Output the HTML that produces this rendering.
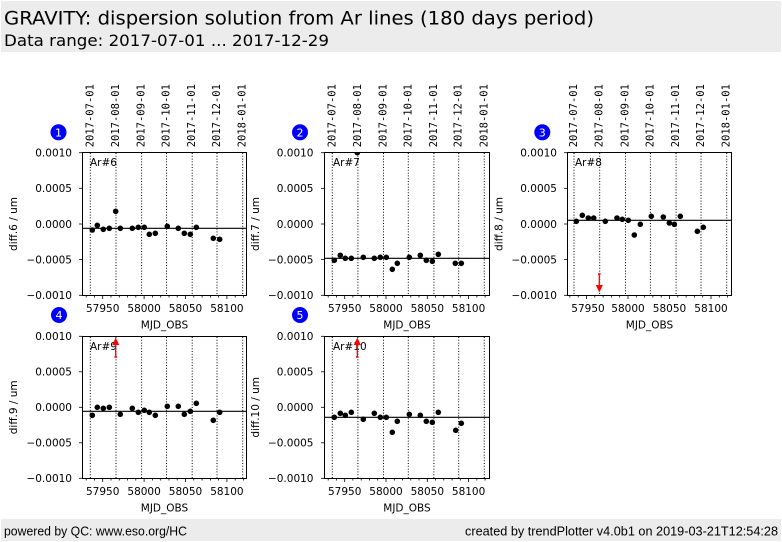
<!DOCTYPE html>
<html><head><meta charset="utf-8"><style>
html,body{margin:0;padding:0;background:#fff;}
svg{display:block;}
.t{font-family:"DejaVu Sans","Liberation Sans",sans-serif;font-size:10.5px;fill:#000;}
.d{font-family:"DejaVu Sans Mono","Liberation Mono",monospace;font-size:10.5px;fill:#000;}
.n{font-family:"DejaVu Sans","Liberation Sans",sans-serif;font-size:11px;text-anchor:middle;}
.dl{stroke:#000;stroke-width:1;stroke-dasharray:1,1.8;fill:none;}
</style></head><body>
<svg width="782" height="542" viewBox="0 0 782 542" xmlns="http://www.w3.org/2000/svg">
<rect x="0" y="0" width="782" height="542" fill="#fff"/>
<!-- header -->
<rect x="1" y="1" width="780" height="51" fill="#ececec"/>
<text x="4" y="24.5" font-family="DejaVu Sans, Liberation Sans, sans-serif" font-size="19px" fill="#000" textLength="590" lengthAdjust="spacingAndGlyphs">GRAVITY: dispersion solution from Ar lines (180 days period)</text>
<text x="4" y="46" font-family="DejaVu Sans, Liberation Sans, sans-serif" font-size="16px" fill="#000" textLength="325" lengthAdjust="spacingAndGlyphs">Data range: 2017-07-01 ... 2017-12-29</text>
<!-- footer -->
<rect x="1" y="519" width="780" height="22" fill="#ececec"/>
<text x="4" y="535.5" font-family="Liberation Sans, DejaVu Sans, sans-serif" font-size="12.5px" fill="#000" textLength="183" lengthAdjust="spacingAndGlyphs">powered by QC: www.eso.org/HC</text>
<text x="778" y="535.5" text-anchor="end" font-family="Liberation Sans, DejaVu Sans, sans-serif" font-size="12.5px" fill="#000" textLength="313" lengthAdjust="spacingAndGlyphs">created by trendPlotter v4.0b1 on 2019-03-21T12:54:28</text>

<defs>
<clipPath id="c1"><rect x="82.5" y="152.5" width="164" height="143"/></clipPath>
<clipPath id="c2"><rect x="324.5" y="152.5" width="165" height="143"/></clipPath>
<clipPath id="c3"><rect x="567.5" y="152.5" width="164" height="143"/></clipPath>
<clipPath id="c4"><rect x="82.5" y="336.5" width="164" height="142"/></clipPath>
<clipPath id="c5"><rect x="324.5" y="336.5" width="165" height="142"/></clipPath>
</defs>

<!-- ================= PANEL 1 ================= -->
<g class="dl">
<line x1="90.3" y1="153" x2="90.3" y2="295"/><line x1="116" y1="153" x2="116" y2="295"/><line x1="141.6" y1="153" x2="141.6" y2="295"/><line x1="166.5" y1="153" x2="166.5" y2="295"/><line x1="192.2" y1="153" x2="192.2" y2="295"/><line x1="217" y1="153" x2="217" y2="295"/><line x1="242.7" y1="153" x2="242.7" y2="295"/>
</g>
<line x1="82.5" y1="228.3" x2="246.5" y2="228.3" stroke="#000" stroke-width="1.2"/>
<g fill="#000" clip-path="url(#c1)">
<circle cx="92.3" cy="230" r="2.8"/><circle cx="97.3" cy="225.3" r="2.8"/><circle cx="103.3" cy="229.3" r="2.8"/><circle cx="109.3" cy="228.3" r="2.8"/><circle cx="115.7" cy="211.3" r="2.8"/><circle cx="120.3" cy="228.3" r="2.8"/><circle cx="132.3" cy="228.3" r="2.8"/><circle cx="138.3" cy="227.3" r="2.8"/><circle cx="144.3" cy="227.3" r="2.8"/><circle cx="149.3" cy="234.3" r="2.8"/><circle cx="155.3" cy="233.3" r="2.8"/><circle cx="167.3" cy="226.3" r="2.8"/><circle cx="178.3" cy="228.3" r="2.8"/><circle cx="184.3" cy="233.3" r="2.8"/><circle cx="190.3" cy="234.3" r="2.8"/><circle cx="196.3" cy="227.3" r="2.8"/><circle cx="213.3" cy="238.3" r="2.8"/><circle cx="219.7" cy="239.3" r="2.8"/>
</g>
<rect x="82.5" y="152.5" width="164" height="143" fill="none" stroke="#000" stroke-width="1"/>
<g stroke="#000" stroke-width="0.8">
<line x1="79" y1="152.7" x2="82.5" y2="152.7"/><line x1="79" y1="188.3" x2="82.5" y2="188.3"/><line x1="79" y1="224" x2="82.5" y2="224"/><line x1="79" y1="259.6" x2="82.5" y2="259.6"/><line x1="79" y1="295.3" x2="82.5" y2="295.3"/>
<line x1="102.7" y1="295.5" x2="102.7" y2="299"/><line x1="144.1" y1="295.5" x2="144.1" y2="299"/><line x1="185.5" y1="295.5" x2="185.5" y2="299"/><line x1="226.9" y1="295.5" x2="226.9" y2="299"/>
<line x1="86.2" y1="295.5" x2="86.2" y2="297.5"/><line x1="94.4" y1="295.5" x2="94.4" y2="297.5"/><line x1="111" y1="295.5" x2="111" y2="297.5"/><line x1="119.3" y1="295.5" x2="119.3" y2="297.5"/><line x1="127.6" y1="295.5" x2="127.6" y2="297.5"/><line x1="135.8" y1="295.5" x2="135.8" y2="297.5"/><line x1="152.4" y1="295.5" x2="152.4" y2="297.5"/><line x1="160.7" y1="295.5" x2="160.7" y2="297.5"/><line x1="169" y1="295.5" x2="169" y2="297.5"/><line x1="177.2" y1="295.5" x2="177.2" y2="297.5"/><line x1="193.8" y1="295.5" x2="193.8" y2="297.5"/><line x1="202.1" y1="295.5" x2="202.1" y2="297.5"/><line x1="210.4" y1="295.5" x2="210.4" y2="297.5"/><line x1="218.6" y1="295.5" x2="218.6" y2="297.5"/><line x1="235.2" y1="295.5" x2="235.2" y2="297.5"/><line x1="243.5" y1="295.5" x2="243.5" y2="297.5"/>
</g>
<g class="t" text-anchor="end">
<text x="72" y="156.5">0.0010</text><text x="72" y="192.1">0.0005</text><text x="72" y="227.8">0.0000</text><text x="72" y="263.4">−0.0005</text><text x="72" y="299.1">−0.0010</text>
</g>
<g class="t" text-anchor="middle">
<text x="102.7" y="312">57950</text><text x="144.1" y="312">58000</text><text x="185.5" y="312">58050</text><text x="226.9" y="312">58100</text>
<text x="164.5" y="328.5">MJD_OBS</text>
</g>
<text class="t" transform="translate(17,224) rotate(-90)" text-anchor="middle">diff.6 / um</text>
<text class="t" x="90" y="166">Ar#6</text>
<g class="d">
<text transform="translate(93.3,147.3) rotate(-90)">2017-07-01</text><text transform="translate(119,147.3) rotate(-90)">2017-08-01</text><text transform="translate(144.6,147.3) rotate(-90)">2017-09-01</text><text transform="translate(169.5,147.3) rotate(-90)">2017-10-01</text><text transform="translate(195.2,147.3) rotate(-90)">2017-11-01</text><text transform="translate(220,147.3) rotate(-90)">2017-12-01</text><text transform="translate(245.7,147.3) rotate(-90)">2018-01-01</text>
</g>
<circle cx="58.5" cy="132.3" r="8" fill="#0000ff"/><text class="n" x="58.5" y="136.3" fill="#fff">1</text>

<!-- ================= PANEL 2 ================= -->
<g class="dl">
<line x1="332.3" y1="153" x2="332.3" y2="295"/><line x1="357.9" y1="153" x2="357.9" y2="295"/><line x1="383.5" y1="153" x2="383.5" y2="295"/><line x1="408.3" y1="153" x2="408.3" y2="295"/><line x1="433.9" y1="153" x2="433.9" y2="295"/><line x1="458.7" y1="153" x2="458.7" y2="295"/><line x1="484.3" y1="153" x2="484.3" y2="295"/>
</g>
<line x1="324.5" y1="258.3" x2="489.5" y2="258.3" stroke="#000" stroke-width="1.2"/>
<g fill="#000" clip-path="url(#c2)">
<circle cx="357.3" cy="152.7" r="2.8"/>
<circle cx="334.3" cy="260.3" r="2.8"/><circle cx="340.3" cy="255.3" r="2.8"/><circle cx="345.3" cy="258.3" r="2.8"/><circle cx="351.3" cy="258.3" r="2.8"/><circle cx="363.3" cy="257.3" r="2.8"/><circle cx="374.3" cy="258.3" r="2.8"/><circle cx="380.3" cy="257.3" r="2.8"/><circle cx="386.3" cy="257.3" r="2.8"/><circle cx="392.3" cy="269.3" r="2.8"/><circle cx="397.3" cy="263.3" r="2.8"/><circle cx="409.3" cy="257.3" r="2.8"/><circle cx="420.3" cy="255.3" r="2.8"/><circle cx="426.3" cy="260.3" r="2.8"/><circle cx="432.3" cy="261.3" r="2.8"/><circle cx="438.3" cy="254.3" r="2.8"/><circle cx="455.3" cy="263.3" r="2.8"/><circle cx="461.3" cy="263.3" r="2.8"/>
</g>
<rect x="324.5" y="152.5" width="165" height="143" fill="none" stroke="#000" stroke-width="1"/>
<g stroke="#000" stroke-width="0.8">
<line x1="321" y1="152.7" x2="324.5" y2="152.7"/><line x1="321" y1="188.3" x2="324.5" y2="188.3"/><line x1="321" y1="224" x2="324.5" y2="224"/><line x1="321" y1="259.6" x2="324.5" y2="259.6"/><line x1="321" y1="295.3" x2="324.5" y2="295.3"/>
<line x1="344.7" y1="295.5" x2="344.7" y2="299"/><line x1="386" y1="295.5" x2="386" y2="299"/><line x1="427.3" y1="295.5" x2="427.3" y2="299"/><line x1="468.6" y1="295.5" x2="468.6" y2="299"/>
<line x1="328.2" y1="295.5" x2="328.2" y2="297.5"/><line x1="336.4" y1="295.5" x2="336.4" y2="297.5"/><line x1="352.9" y1="295.5" x2="352.9" y2="297.5"/><line x1="361.2" y1="295.5" x2="361.2" y2="297.5"/><line x1="369.5" y1="295.5" x2="369.5" y2="297.5"/><line x1="377.7" y1="295.5" x2="377.7" y2="297.5"/><line x1="394.3" y1="295.5" x2="394.3" y2="297.5"/><line x1="402.5" y1="295.5" x2="402.5" y2="297.5"/><line x1="410.8" y1="295.5" x2="410.8" y2="297.5"/><line x1="419" y1="295.5" x2="419" y2="297.5"/><line x1="435.6" y1="295.5" x2="435.6" y2="297.5"/><line x1="443.8" y1="295.5" x2="443.8" y2="297.5"/><line x1="452.1" y1="295.5" x2="452.1" y2="297.5"/><line x1="460.3" y1="295.5" x2="460.3" y2="297.5"/><line x1="476.9" y1="295.5" x2="476.9" y2="297.5"/><line x1="485.1" y1="295.5" x2="485.1" y2="297.5"/>
</g>
<g class="t" text-anchor="end">
<text x="313.5" y="156.5">0.0010</text><text x="313.5" y="192.1">0.0005</text><text x="313.5" y="227.8">0.0000</text><text x="313.5" y="263.4">−0.0005</text><text x="313.5" y="299.1">−0.0010</text>
</g>
<g class="t" text-anchor="middle">
<text x="344.7" y="312">57950</text><text x="386" y="312">58000</text><text x="427.3" y="312">58050</text><text x="468.6" y="312">58100</text>
<text x="407" y="328.5">MJD_OBS</text>
</g>
<text class="t" transform="translate(259,224) rotate(-90)" text-anchor="middle">diff.7 / um</text>
<text class="t" x="333" y="166">Ar#7</text>
<g class="d">
<text transform="translate(335.3,147.3) rotate(-90)">2017-07-01</text><text transform="translate(360.9,147.3) rotate(-90)">2017-08-01</text><text transform="translate(386.5,147.3) rotate(-90)">2017-09-01</text><text transform="translate(411.3,147.3) rotate(-90)">2017-10-01</text><text transform="translate(436.9,147.3) rotate(-90)">2017-11-01</text><text transform="translate(461.7,147.3) rotate(-90)">2017-12-01</text><text transform="translate(487.3,147.3) rotate(-90)">2018-01-01</text>
</g>
<circle cx="300" cy="132.3" r="8" fill="#0000ff"/><text class="n" x="300" y="136.3" fill="#fff">2</text>

<!-- ================= PANEL 3 ================= -->
<g class="dl">
<line x1="574" y1="153" x2="574" y2="295"/><line x1="599.7" y1="153" x2="599.7" y2="295"/><line x1="625.5" y1="153" x2="625.5" y2="295"/><line x1="650.4" y1="153" x2="650.4" y2="295"/><line x1="676.1" y1="153" x2="676.1" y2="295"/><line x1="701" y1="153" x2="701" y2="295"/><line x1="726.7" y1="153" x2="726.7" y2="295"/>
</g>
<line x1="567.5" y1="220.3" x2="731.5" y2="220.3" stroke="#000" stroke-width="1.2"/>
<g fill="#000" clip-path="url(#c3)">
<circle cx="576.3" cy="221.3" r="2.8"/><circle cx="582.3" cy="215.3" r="2.8"/><circle cx="588.3" cy="218" r="2.8"/><circle cx="593.7" cy="218" r="2.8"/><circle cx="605.3" cy="221.3" r="2.8"/><circle cx="617" cy="218" r="2.8"/><circle cx="622.3" cy="219.3" r="2.8"/><circle cx="628.3" cy="220.3" r="2.8"/><circle cx="634.3" cy="235" r="2.8"/><circle cx="640.3" cy="224.3" r="2.8"/><circle cx="651.3" cy="216.3" r="2.8"/><circle cx="663.3" cy="217" r="2.8"/><circle cx="669.3" cy="223" r="2.8"/><circle cx="674.3" cy="224.3" r="2.8"/><circle cx="680.3" cy="216.3" r="2.8"/><circle cx="697.3" cy="231.3" r="2.8"/><circle cx="703.3" cy="227.3" r="2.8"/>
</g>
<g>
<line x1="599.3" y1="274" x2="599.3" y2="287" stroke="#f00" stroke-width="1.3"/>
<line x1="598" y1="274" x2="600.6" y2="274" stroke="#f00" stroke-width="1.5"/>
<polygon points="595.8,285 602.8,285 599.3,292.5" fill="#f00"/>
</g>
<rect x="567.5" y="152.5" width="164" height="143" fill="none" stroke="#000" stroke-width="1"/>
<g stroke="#000" stroke-width="0.8">
<line x1="564" y1="152.7" x2="567.5" y2="152.7"/><line x1="564" y1="188.3" x2="567.5" y2="188.3"/><line x1="564" y1="224" x2="567.5" y2="224"/><line x1="564" y1="259.6" x2="567.5" y2="259.6"/><line x1="564" y1="295.3" x2="567.5" y2="295.3"/>
<line x1="586.5" y1="295.5" x2="586.5" y2="299"/><line x1="628" y1="295.5" x2="628" y2="299"/><line x1="669.5" y1="295.5" x2="669.5" y2="299"/><line x1="711" y1="295.5" x2="711" y2="299"/>
<line x1="569.9" y1="295.5" x2="569.9" y2="297.5"/><line x1="578.2" y1="295.5" x2="578.2" y2="297.5"/><line x1="594.8" y1="295.5" x2="594.8" y2="297.5"/><line x1="603.1" y1="295.5" x2="603.1" y2="297.5"/><line x1="611.4" y1="295.5" x2="611.4" y2="297.5"/><line x1="619.7" y1="295.5" x2="619.7" y2="297.5"/><line x1="636.3" y1="295.5" x2="636.3" y2="297.5"/><line x1="644.6" y1="295.5" x2="644.6" y2="297.5"/><line x1="652.9" y1="295.5" x2="652.9" y2="297.5"/><line x1="661.2" y1="295.5" x2="661.2" y2="297.5"/><line x1="677.8" y1="295.5" x2="677.8" y2="297.5"/><line x1="686.1" y1="295.5" x2="686.1" y2="297.5"/><line x1="694.4" y1="295.5" x2="694.4" y2="297.5"/><line x1="702.7" y1="295.5" x2="702.7" y2="297.5"/><line x1="719.3" y1="295.5" x2="719.3" y2="297.5"/><line x1="727.6" y1="295.5" x2="727.6" y2="297.5"/>
</g>
<g class="t" text-anchor="end">
<text x="557" y="156.5">0.0010</text><text x="557" y="192.1">0.0005</text><text x="557" y="227.8">0.0000</text><text x="557" y="263.4">−0.0005</text><text x="557" y="299.1">−0.0010</text>
</g>
<g class="t" text-anchor="middle">
<text x="588" y="312">57950</text><text x="628" y="312">58000</text><text x="669.5" y="312">58050</text><text x="711" y="312">58100</text>
<text x="649.5" y="328.5">MJD_OBS</text>
</g>
<text class="t" transform="translate(502.5,224) rotate(-90)" text-anchor="middle">diff.8 / um</text>
<text class="t" x="575" y="166">Ar#8</text>
<g class="d">
<text transform="translate(577,147.3) rotate(-90)">2017-07-01</text><text transform="translate(602.7,147.3) rotate(-90)">2017-08-01</text><text transform="translate(628.5,147.3) rotate(-90)">2017-09-01</text><text transform="translate(653.4,147.3) rotate(-90)">2017-10-01</text><text transform="translate(679.1,147.3) rotate(-90)">2017-11-01</text><text transform="translate(704,147.3) rotate(-90)">2017-12-01</text><text transform="translate(729.7,147.3) rotate(-90)">2018-01-01</text>
</g>
<circle cx="542.3" cy="132.3" r="8" fill="#0000ff"/><text class="n" x="542.3" y="136.3" fill="#fff">3</text>

<!-- ================= PANEL 4 ================= -->
<g class="dl">
<line x1="90.3" y1="337" x2="90.3" y2="478"/><line x1="116" y1="337" x2="116" y2="478"/><line x1="141.6" y1="337" x2="141.6" y2="478"/><line x1="166.5" y1="337" x2="166.5" y2="478"/><line x1="192.2" y1="337" x2="192.2" y2="478"/><line x1="217" y1="337" x2="217" y2="478"/><line x1="242.7" y1="337" x2="242.7" y2="478"/>
</g>
<line x1="82.5" y1="411.3" x2="246.5" y2="411.3" stroke="#000" stroke-width="1.2"/>
<g fill="#000" clip-path="url(#c4)">
<circle cx="92.3" cy="415.3" r="2.8"/><circle cx="97.3" cy="407.3" r="2.8"/><circle cx="103.3" cy="408.3" r="2.8"/><circle cx="109.3" cy="407.3" r="2.8"/><circle cx="120.3" cy="414.3" r="2.8"/><circle cx="132.3" cy="408.3" r="2.8"/><circle cx="138.3" cy="412.3" r="2.8"/><circle cx="144.3" cy="410.3" r="2.8"/><circle cx="149.3" cy="412.3" r="2.8"/><circle cx="155.3" cy="415.3" r="2.8"/><circle cx="167.3" cy="406.3" r="2.8"/><circle cx="178.3" cy="406.3" r="2.8"/><circle cx="184.3" cy="414.3" r="2.8"/><circle cx="190.3" cy="411.3" r="2.8"/><circle cx="196.3" cy="403.3" r="2.8"/><circle cx="213.3" cy="420.3" r="2.8"/><circle cx="219.7" cy="412.3" r="2.8"/>
</g>
<rect x="82.5" y="336.5" width="164" height="142" fill="none" stroke="#000" stroke-width="1"/>
<g stroke="#000" stroke-width="0.8">
<line x1="79" y1="336.3" x2="82.5" y2="336.3"/><line x1="79" y1="371.8" x2="82.5" y2="371.8"/><line x1="79" y1="407.3" x2="82.5" y2="407.3"/><line x1="79" y1="442.8" x2="82.5" y2="442.8"/><line x1="79" y1="478.3" x2="82.5" y2="478.3"/>
<line x1="102.7" y1="478.5" x2="102.7" y2="482"/><line x1="144.1" y1="478.5" x2="144.1" y2="482"/><line x1="185.5" y1="478.5" x2="185.5" y2="482"/><line x1="226.9" y1="478.5" x2="226.9" y2="482"/>
<line x1="86.2" y1="478.5" x2="86.2" y2="480.5"/><line x1="94.4" y1="478.5" x2="94.4" y2="480.5"/><line x1="111" y1="478.5" x2="111" y2="480.5"/><line x1="119.3" y1="478.5" x2="119.3" y2="480.5"/><line x1="127.6" y1="478.5" x2="127.6" y2="480.5"/><line x1="135.8" y1="478.5" x2="135.8" y2="480.5"/><line x1="152.4" y1="478.5" x2="152.4" y2="480.5"/><line x1="160.7" y1="478.5" x2="160.7" y2="480.5"/><line x1="169" y1="478.5" x2="169" y2="480.5"/><line x1="177.2" y1="478.5" x2="177.2" y2="480.5"/><line x1="193.8" y1="478.5" x2="193.8" y2="480.5"/><line x1="202.1" y1="478.5" x2="202.1" y2="480.5"/><line x1="210.4" y1="478.5" x2="210.4" y2="480.5"/><line x1="218.6" y1="478.5" x2="218.6" y2="480.5"/><line x1="235.2" y1="478.5" x2="235.2" y2="480.5"/><line x1="243.5" y1="478.5" x2="243.5" y2="480.5"/>
</g>
<g class="t" text-anchor="end">
<text x="72" y="340.1">0.0010</text><text x="72" y="375.6">0.0005</text><text x="72" y="411.1">0.0000</text><text x="72" y="446.6">−0.0005</text><text x="72" y="482.1">−0.0010</text>
</g>
<g class="t" text-anchor="middle">
<text x="102.7" y="495">57950</text><text x="144.1" y="495">58000</text><text x="185.5" y="495">58050</text><text x="226.9" y="495">58100</text>
<text x="164.5" y="511.5">MJD_OBS</text>
</g>
<text class="t" transform="translate(17,407.3) rotate(-90)" text-anchor="middle">diff.9 / um</text>
<text class="t" x="90" y="350">Ar#9</text>
<g>
<line x1="115.7" y1="357" x2="115.7" y2="343" stroke="#f00" stroke-width="1.3"/>
<line x1="114.4" y1="357" x2="117" y2="357" stroke="#f00" stroke-width="1.5"/>
<polygon points="112.2,345 119.2,345 115.7,337.5" fill="#f00"/>
</g>
<circle cx="59" cy="315" r="8" fill="#0000ff"/><text class="n" x="59" y="319" fill="#ffffd0">4</text>

<!-- ================= PANEL 5 ================= -->
<g class="dl">
<line x1="332.3" y1="337" x2="332.3" y2="478"/><line x1="357.9" y1="337" x2="357.9" y2="478"/><line x1="383.5" y1="337" x2="383.5" y2="478"/><line x1="408.3" y1="337" x2="408.3" y2="478"/><line x1="433.9" y1="337" x2="433.9" y2="478"/><line x1="458.7" y1="337" x2="458.7" y2="478"/><line x1="484.3" y1="337" x2="484.3" y2="478"/>
</g>
<line x1="324.5" y1="417.3" x2="489.5" y2="417.3" stroke="#000" stroke-width="1.2"/>
<g fill="#000" clip-path="url(#c5)">
<circle cx="334.3" cy="417.3" r="2.8"/><circle cx="340.3" cy="413.3" r="2.8"/><circle cx="345.3" cy="415.3" r="2.8"/><circle cx="351.3" cy="412.3" r="2.8"/><circle cx="363.3" cy="419.3" r="2.8"/><circle cx="374.3" cy="413.3" r="2.8"/><circle cx="380.3" cy="417.3" r="2.8"/><circle cx="386.3" cy="417.3" r="2.8"/><circle cx="392.3" cy="432.3" r="2.8"/><circle cx="397.3" cy="421.3" r="2.8"/><circle cx="409.3" cy="414.3" r="2.8"/><circle cx="420.3" cy="415.3" r="2.8"/><circle cx="426.3" cy="421.3" r="2.8"/><circle cx="432.3" cy="422.3" r="2.8"/><circle cx="438.3" cy="412.3" r="2.8"/><circle cx="455.7" cy="430.3" r="2.8"/><circle cx="461.3" cy="423.3" r="2.8"/>
</g>
<rect x="324.5" y="336.5" width="165" height="142" fill="none" stroke="#000" stroke-width="1"/>
<g stroke="#000" stroke-width="0.8">
<line x1="321" y1="336.3" x2="324.5" y2="336.3"/><line x1="321" y1="371.8" x2="324.5" y2="371.8"/><line x1="321" y1="407.3" x2="324.5" y2="407.3"/><line x1="321" y1="442.8" x2="324.5" y2="442.8"/><line x1="321" y1="478.3" x2="324.5" y2="478.3"/>
<line x1="344.7" y1="478.5" x2="344.7" y2="482"/><line x1="386" y1="478.5" x2="386" y2="482"/><line x1="427.3" y1="478.5" x2="427.3" y2="482"/><line x1="468.6" y1="478.5" x2="468.6" y2="482"/>
<line x1="328.2" y1="478.5" x2="328.2" y2="480.5"/><line x1="336.4" y1="478.5" x2="336.4" y2="480.5"/><line x1="352.9" y1="478.5" x2="352.9" y2="480.5"/><line x1="361.2" y1="478.5" x2="361.2" y2="480.5"/><line x1="369.5" y1="478.5" x2="369.5" y2="480.5"/><line x1="377.7" y1="478.5" x2="377.7" y2="480.5"/><line x1="394.3" y1="478.5" x2="394.3" y2="480.5"/><line x1="402.5" y1="478.5" x2="402.5" y2="480.5"/><line x1="410.8" y1="478.5" x2="410.8" y2="480.5"/><line x1="419" y1="478.5" x2="419" y2="480.5"/><line x1="435.6" y1="478.5" x2="435.6" y2="480.5"/><line x1="443.8" y1="478.5" x2="443.8" y2="480.5"/><line x1="452.1" y1="478.5" x2="452.1" y2="480.5"/><line x1="460.3" y1="478.5" x2="460.3" y2="480.5"/><line x1="476.9" y1="478.5" x2="476.9" y2="480.5"/><line x1="485.1" y1="478.5" x2="485.1" y2="480.5"/>
</g>
<g class="t" text-anchor="end">
<text x="313.5" y="340.1">0.0010</text><text x="313.5" y="375.6">0.0005</text><text x="313.5" y="411.1">0.0000</text><text x="313.5" y="446.6">−0.0005</text><text x="313.5" y="482.1">−0.0010</text>
</g>
<g class="t" text-anchor="middle">
<text x="344.7" y="495">57950</text><text x="386" y="495">58000</text><text x="427.3" y="495">58050</text><text x="468.6" y="495">58100</text>
<text x="407" y="511.5">MJD_OBS</text>
</g>
<text class="t" transform="translate(259,407.3) rotate(-90)" text-anchor="middle">diff.10 / um</text>
<text class="t" x="333" y="350">Ar#10</text>
<g>
<line x1="357.3" y1="357" x2="357.3" y2="343" stroke="#f00" stroke-width="1.3"/>
<line x1="356" y1="357" x2="358.6" y2="357" stroke="#f00" stroke-width="1.5"/>
<polygon points="353.8,345 360.8,345 357.3,337.5" fill="#f00"/>
</g>
<circle cx="300" cy="315" r="8" fill="#0000ff"/><text class="n" x="300" y="319" fill="#ffffd0">5</text>
</svg>
</body></html>
